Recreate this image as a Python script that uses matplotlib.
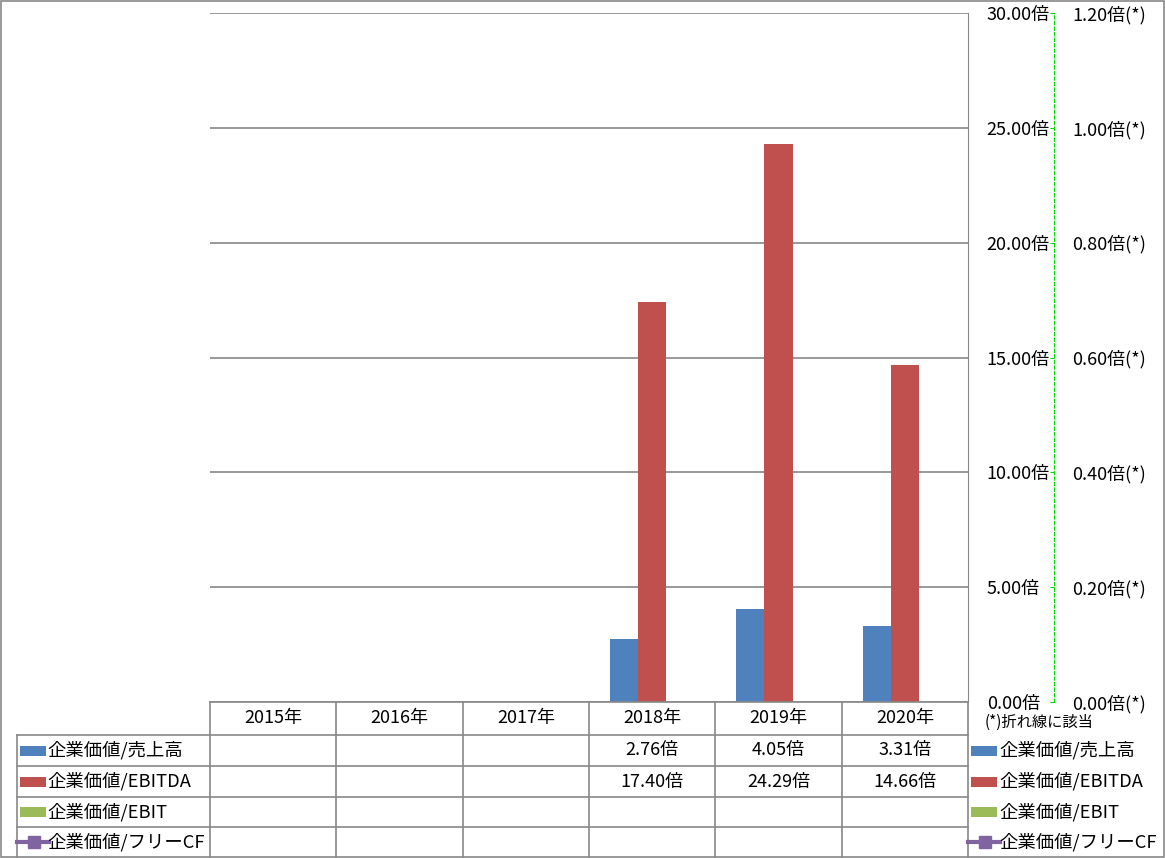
import numpy as np
import matplotlib.pyplot as plt
from matplotlib.patches import Rectangle

plt.rcParams["font.family"] = ["Noto Sans CJK JP", "DejaVu Sans"]

# Chart data
years = ["2015年", "2016年", "2017年", "2018年", "2019年", "2020年"]
ev_sales = [np.nan, np.nan, np.nan, 2.76, 4.05, 3.31]
ev_ebitda = [np.nan, np.nan, np.nan, 17.40, 24.29, 14.66]
ev_ebit = [np.nan] * 6
ev_fcf = [np.nan] * 6

series_names = ["企業価値/売上高", "企業価値/EBITDA", "企業価値/EBIT", "企業価値/フリーCF"]
bar_colors = ["#4F81BD", "#C0504D", "#9BBB59"]
line_color = "#8064A2"
grid_color = "#888888"

W, H = 1165, 858
fig = plt.figure(figsize=(W / 100, H / 100), dpi=100)

# Plot area in pixels
left, right, top, bottom = 210, 968, 13, 702
ax = fig.add_axes([left / W, (H - bottom) / H, (right - left) / W, (bottom - top) / H])

n = len(years)
x = np.arange(n) + 0.5
bw = 2 / 9
for k, (vals, col) in enumerate(zip([ev_sales, ev_ebitda, ev_ebit], bar_colors)):
    ax.bar(x + (k - 1) * bw, vals, width=bw, color=col, zorder=3)

ax.set_xlim(0, n)
ax.set_ylim(0, 30)
ax.set_xticks([])
for s in ["left", "top", "bottom"]:
    ax.spines[s].set_visible(False)
ax.spines["right"].set_color(grid_color)
ax.grid(axis="y", color=grid_color, linewidth=1.2, zorder=0)

# Secondary axis for the line series
ax2 = ax.twinx()
ax2.plot(x, ev_fcf, color=line_color, marker="s")
ax2.set_ylim(0, 1.2)
ax2.spines["right"].set_position(("axes", (1054 - left) / (right - left)))
ax2.spines["right"].set_color("#00DD00")
ax2.spines["right"].set_linestyle((0, (3, 2)))
for s in ["left", "top", "bottom"]:
    ax2.spines[s].set_visible(False)
ax2.tick_params(axis="y", direction="in", length=3, color="#00DD00",
                pad=13, labelsize=13)
y2 = np.arange(0, 1.21, 0.2)
ax2.set_yticks(y2)
ax2.set_yticklabels([f"{v:.2f}倍(*)" for v in y2])

# primary tick labels on the right (twinx moves them left)
ax.yaxis.tick_right()
ax.tick_params(axis="y", length=0, pad=13.5, labelsize=13)
y1 = np.arange(0, 31, 5)
ax.set_yticks(y1)
ax.set_yticklabels([f"{v:.2f}倍" for v in y1])

# Overlay for table and legends, in pixel coordinates
ov = fig.add_axes([0, 0, 1, 1], zorder=5)
ov.set_xlim(0, W)
ov.set_ylim(H, 0)
ov.axis("off")
ov.patch.set_alpha(0)

lc = grid_color
lw = 1.2
col_edges = np.linspace(left, right, n + 1)
row_edges = [702, 735, 766, 797, 827, 857]

ov.plot([left, right], [702, 702], color=lc, lw=lw)
for y in row_edges[1:-1]:
    ov.plot([17, right], [y, y], color=lc, lw=lw)
ov.plot([17, 17], [735, 857], color=lc, lw=lw)
for xe in col_edges:
    ov.plot([xe, xe], [702, 857], color=lc, lw=lw)

# Outer frame
ov.add_patch(Rectangle((0.5, 0.5), W - 1.5, H - 1.5, fill=False, ec=lc, lw=lw))

fs = 13
for i, yr in enumerate(years):
    cx = (col_edges[i] + col_edges[i + 1]) / 2
    ov.text(cx, (702 + 735) / 2, yr, ha="center", va="center", fontsize=fs)
    for r, vals in enumerate([ev_sales, ev_ebitda, ev_ebit, ev_fcf]):
        v = vals[i]
        if not np.isnan(v):
            cy = (row_edges[r + 1] + row_edges[r + 2]) / 2
            ov.text(cx, cy, f"{v:.2f}倍", ha="center", va="center", fontsize=fs)


def legend_key(x0, cy, k):
    if k < 3:
        ov.add_patch(Rectangle((x0, cy - 5), 26, 10, color=bar_colors[k], lw=0))
    else:
        ov.plot([x0 - 3, x0 + 29], [cy, cy], color=line_color, lw=3)
        ov.plot([x0 + 13.5], [cy], marker="s", ms=9, color=line_color)


for r, name in enumerate(series_names):
    cy = (row_edges[r + 1] + row_edges[r + 2]) / 2
    legend_key(20, cy, r)
    ov.text(47, cy, name, ha="left", va="center", fontsize=13.2)
    legend_key(971, cy, r)
    ov.text(999, cy, name, ha="left", va="center", fontsize=13.2)

ov.text(985, 722, "(*)折れ線に該当", ha="left", va="center", fontsize=11)

fig.savefig("out.png", dpi=100)
plt.close(fig)
